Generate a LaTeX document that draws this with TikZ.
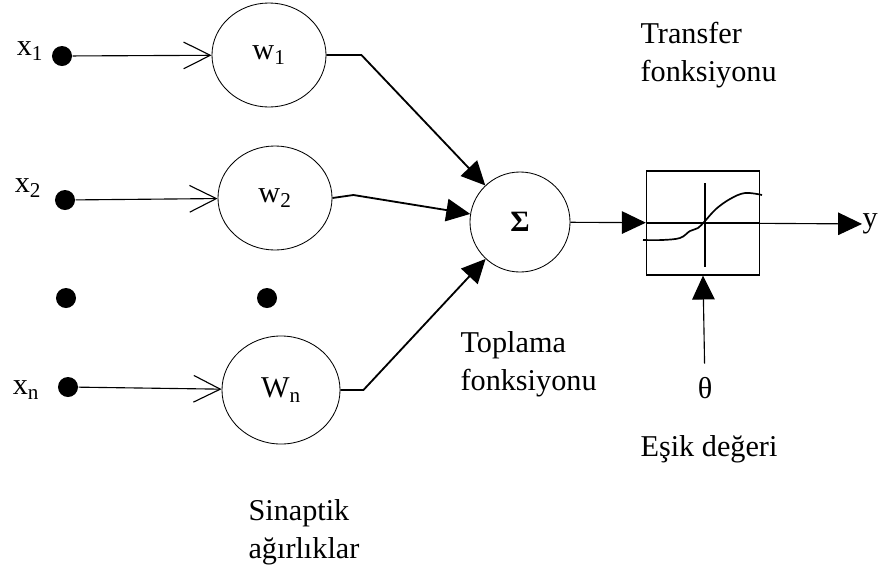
\documentclass[tikz,border=0pt]{standalone}
\usepackage{fontspec}
\setmainfont{Liberation Serif}
\usetikzlibrary{arrows.meta,shapes.geometric}

\begin{document}
\begin{tikzpicture}[x = 0.025cm, y = -0.025cm, line width = 0.8pt,
    every node/.style = {font = \fontsize{21.5}{27}\selectfont},
    dot/.style = {shape = circle, fill = black, inner sep = 0pt, minimum size = 0.5cm},
    weight/.style = {shape = ellipse, draw, line width = 0.6pt, inner sep = 0pt,
        minimum width = 2.85cm, minimum height = 2.6cm},
    caption/.style = {align = left, anchor = north west, inner sep = 0pt},
    feed/.style = {-{Straight Barb[length = 19pt, width = 19pt]}},
    tip/.style = {-{Triangle[length = 17pt, width = 16pt]}}]
    \useasboundingbox (0,0) rectangle (880,574);

    \node[dot] (x1) at (62,56) {};
    \node[dot] (x2) at (65,200) {};
    \node[dot] (xd) at (66,298) {};
    \node[dot] (xn) at (68,387) {};
    \node[dot] (wd) at (267,298) {};
    \node at (30,51) {x\textsubscript{1}};
    \node at (28,188) {x\textsubscript{2}};
    \node at (26,390) {x\textsubscript{n}};

    \node[weight] (w1) at (269,55) {w\textsubscript{1}};
    \node[weight] (w2) at (275,198) {w\textsubscript{2}};
    \node[weight, minimum width = 2.95cm, minimum height = 2.7cm] (wn) at (281,390) {W\textsubscript{n}};

    \node[shape = circle, draw, line width = 0.6pt, minimum size = 2.5cm] (sum) at (520,222)
        {\fontsize{21}{21}\selectfont\textbf{Σ}};
    \node[draw, minimum width = 2.83cm, minimum height = 2.6cm] (box) at (703,223) {};
    \node[anchor = west, inner sep = 0pt] (y) at (862,224) {y};
    \node (theta) at (705,388) {θ};

    \draw[feed] (x1) -- (w1);
    \draw[feed] (x2) -- (w2);
    \draw[feed] (xn) -- (wn);

    \draw[tip, line width = 1.3pt] (w1.east) -- ++(35,0) -- (sum);
    \draw[tip, line width = 1.3pt] (w2.east) -- ++(21,-3) -- (sum);
    \draw[tip, line width = 1.3pt] (wn.east) -- ++(23,0) -- (sum);

    \draw[tip] (sum) -- (box);
    \draw[tip] (box) -- (y);
    \draw[tip, shorten <= 6pt] (theta) -- (box.south);

    \draw (box.west) -- (box.east);
    \draw (705,183) -- (705,267);
    \draw[line width = 1.2pt] plot[smooth, tension = 0.6] coordinates
        {(643,240) (662,240) (680,238) (690,231) (698,228) (705,221)
         (716,209) (730,199) (745,193) (762,195)};

    \node[caption] at (640,22) {Transfer\\fonksiyonu};
    \node[caption] at (460,331) {Toplama\\fonksiyonu};
    \node[caption] at (640,435) {Eşik değeri};
    \node[caption] at (248,499) {Sinaptik\\ağırlıklar};
\end{tikzpicture}
\end{document}
